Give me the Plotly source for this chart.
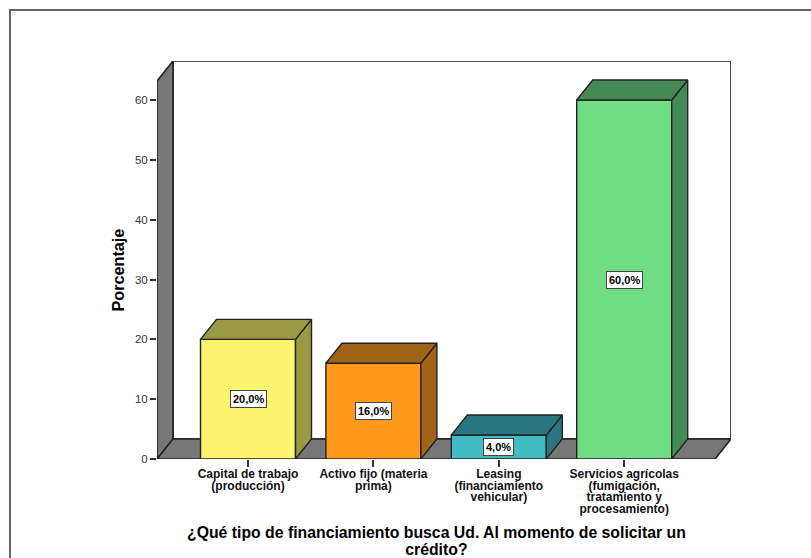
import plotly.graph_objects as go

categories = ["Capital de trabajo<br>(producción)", "Activo fijo (materia<br>prima)",
              "Leasing<br>(financiamiento<br>vehicular)",
              "Servicios agrícolas<br>(fumigación,<br>tratamiento y<br>procesamiento)"]
values = [20.0, 16.0, 4.0, 60.0]
labels = ["20,0%", "16,0%", "4,0%", "60,0%"]
front_colors = ["#FBF66E", "#FF9A1E", "#42BCC4", "#70DC84"]
side_colors = ["#9A9A45", "#A06418", "#2A7680", "#458A55"]
y_ticks = [0, 10, 20, 30, 40, 50, 60]

W, H = 811, 558
L, R, T, B = 157, 731, 61, 459
x0_px, x_step = 248.0, 125.4
y_unit = 5.983
dx = 16 / x_step
dy = 20 / y_unit
bar_w = 95 / x_step
x_min = (L - x0_px) / x_step
x_max = (R - x0_px) / x_step
y_max = (B - T) / y_unit
xs = list(range(len(values)))
OUT = "#222222"
WALL = "#777777"

fig = go.Figure()


def path(px, py):
    return "M" + "L".join("%f,%f" % p for p in zip(px, py)) + "Z"


def wall(px, py, fill):
    return dict(type="path", xref="x", yref="y", layer="below", path=path(px, py),
                fillcolor=fill, line=dict(color=OUT, width=1.6))


def poly(px, py, fill):
    fig.add_trace(go.Scatter(x=px + px[:1], y=py + py[:1], mode="lines", fill="toself",
                             fillcolor=fill, line=dict(color=OUT, width=1.4),
                             hoverinfo="skip", showlegend=False))


back_l = x_min + dx
shapes = [
    wall([back_l, x_max, x_max, back_l], [dy, dy, y_max, y_max], "#FFFFFF"),
    wall([x_min, back_l, back_l, x_min], [0, dy, y_max, y_max - dy], WALL),
    wall([x_min, x_max - dx, x_max, back_l], [0, 0, dy, dy], WALL),
    # outer frame: only the top and left edges are inside the picture
    dict(type="path", xref="paper", yref="paper", layer="below",
         path="M%f,%f L%f,%f L%f,%f" % ((10 - L) / (R - L), (B - H) / (B - T),
                                        (10 - L) / (R - L), (B - 10) / (B - T),
                                        (W - L) / (R - L), (B - 10) / (B - T)),
         line=dict(color="#666666", width=2)),
]

fig.add_trace(go.Bar(x=xs, y=values, width=bar_w,
                     marker=dict(color=front_colors, line=dict(color=OUT, width=1.4)),
                     showlegend=False, hoverinfo="skip"))

# bar sides and tops, derived from the values
for x, v, c in zip(xs, values, side_colors):
    a, b = x - bar_w / 2, x + bar_w / 2
    poly([b, b + dx, b + dx, b], [0, dy, v + dy, v], c)
    poly([a, b, b + dx, a + dx], [v, v, v + dy, v + dy], c)

annotations = [dict(x=x, y=v / 2, text="<b>%s</b>" % t, showarrow=False, bgcolor="#FFFFFF",
                    bordercolor="#444444", borderwidth=1, borderpad=2,
                    font=dict(family="Liberation Sans", size=11, color="#000000"))
               for x, v, t in zip(xs, values, labels)]
annotations.append(dict(xref="paper", yref="paper", x=(117.5 - L) / (R - L), y=(B - 270) / (B - T),
                        xanchor="center", yanchor="middle",
                        textangle=-90, showarrow=False, text="<b>Porcentaje</b>",
                        font=dict(family="Liberation Sans", size=16.2, color="#000000")))
annotations.append(dict(xref="paper", yref="paper", x=(436.5 - L) / (R - L), y=(B - 522) / (B - T),
                        xanchor="center", yanchor="top",
                        showarrow=False,
                        text="<b>¿Qué tipo de financiamiento busca Ud. Al momento de solicitar un<br>crédito?</b>",
                        font=dict(family="Liberation Sans", size=15.8, color="#000000")))

fig.update_layout(
    width=W, height=H, margin=dict(l=L, r=W - R, t=T, b=H - B),
    paper_bgcolor="#FFFFFF", plot_bgcolor="#FFFFFF", showlegend=False, barmode="overlay",
    annotations=annotations, shapes=shapes,
    xaxis=dict(range=[x_min, x_max], tickmode="array", tickvals=xs,
               ticktext=["<b>%s</b>" % c.replace("<br>", "</b><br><b>") for c in categories],
               ticks="outside", ticklen=7, tickcolor="#333333", tickwidth=1.5, showgrid=False, zeroline=False,
               showline=False, tickangle=0, ticklabelstandoff=-3,
               tickfont=dict(family="Liberation Sans", size=12, color="#111111")),
    yaxis=dict(range=[0, y_max], tickmode="array", tickvals=y_ticks, ticks="outside", ticklen=6,
               tickcolor="#333333", tickwidth=1.5, showgrid=False, zeroline=False, showline=False,
               tickfont=dict(family="Liberation Sans", size=11.5, color="#333333")),
)

post = """
document.body.style.margin = '0';
function squeeze(sel, ratio) {
  document.querySelectorAll(sel).forEach(function (t) {
    var d = parseFloat(t.getAttribute('dy'));
    if (d) t.setAttribute('dy', (d * ratio) + 'em');
  });
}
squeeze('.xtick text tspan.line', 0.96 / 1.3);
squeeze('.annotation-text tspan.line', 1.05 / 1.3);
"""
fig.write_html("out.html", post_script=post, config={"displayModeBar": False})
